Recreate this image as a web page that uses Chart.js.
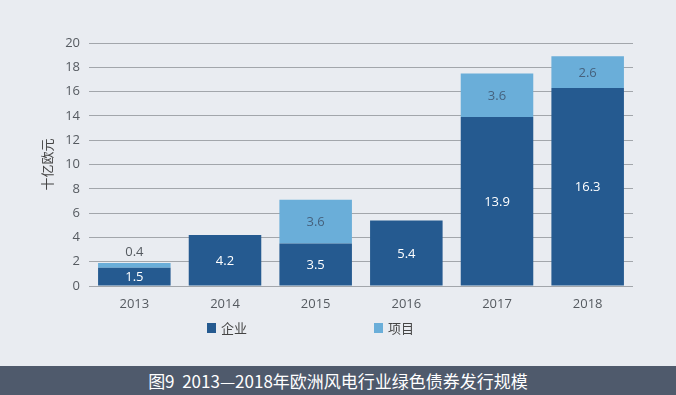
<!DOCTYPE html>
<html>
<head>
<meta charset="utf-8">
<script src="https://cdn.jsdelivr.net/npm/chart.js@4"></script>
<style>
  html, body { margin: 0; padding: 0; }
  body { width: 676px; height: 395px; background: #e9ecf1; overflow: hidden; position: relative; }
  #wrap { position: absolute; left: 0; top: 0; width: 676px; height: 366px; }
  #banner {
    position: absolute; left: 0; top: 366px; width: 676px; height: 29px;
    background: #4f5a6c; color: #ffffff; text-align: center;
    font: 17px "Noto Sans CJK SC", sans-serif; line-height: 29px;
  }
</style>
</head>
<body>
<div id="wrap"><canvas id="grafica" width="676" height="366"></canvas></div>
<div id="banner">图9&nbsp; 2013—2018年欧洲风电行业绿色债券发行规模</div>
<script>
// datos
const anios = ['2013', '2014', '2015', '2016', '2017', '2018'];
const empresa = [1.5, 4.2, 3.5, 5.4, 13.9, 16.3];   // 企业
const proyecto = [0.4, 0, 3.6, 0, 3.6, 2.6];        // 项目
const yTicks = [0, 2, 4, 6, 8, 10, 12, 14, 16, 18, 20];

const azulOscuro = '#255a90';
const azulClaro = '#6aaed9';

// etiquetas de valor sobre / dentro de las barras
const etiquetas = {
  id: 'etiquetas',
  afterDatasetsDraw(chart) {
    const ctx = chart.ctx;
    ctx.save();
    ctx.font = '13px "Open Sans", sans-serif';
    ctx.textAlign = 'center';
    ctx.textBaseline = 'middle';
    chart.data.datasets.forEach((ds, i) => {
      const meta = chart.getDatasetMeta(i);
      meta.data.forEach((bar, j) => {
        const v = ds.data[j];
        if (!v) return;
        const h = Math.abs(bar.base - bar.y);
        let y = (bar.y + bar.base) / 2;
        if (h < 16) {
          y = bar.y - 12;
          ctx.fillStyle = '#555a60';
        } else {
          ctx.fillStyle = i === 0 ? '#ffffff' : '#46627e';
        }
        ctx.fillText(v.toFixed(1), bar.x, y + 1);
      });
    });
    ctx.restore();
  }
};

// leyenda dibujada a mano
const leyenda = {
  id: 'leyenda',
  afterDraw(chart) {
    const ctx = chart.ctx;
    const xs = [207, 374];
    ctx.save();
    ctx.font = '13px "Noto Sans CJK SC", sans-serif';
    ctx.textBaseline = 'middle';
    chart.data.datasets.forEach((ds, i) => {
      ctx.fillStyle = ds.backgroundColor;
      ctx.fillRect(xs[i], 323, 9, 10);
      ctx.fillStyle = '#444444';
      ctx.fillText(ds.label, xs[i] + 14, 328);
    });
    ctx.restore();
  }
};

new Chart(document.getElementById('grafica'), {
  type: 'bar',
  data: {
    labels: anios,
    datasets: [
      { label: '企业', data: empresa, backgroundColor: azulOscuro },
      { label: '项目', data: proyecto, backgroundColor: azulClaro }
    ]
  },
  options: {
    responsive: false,
    animation: false,
    events: [],
    categoryPercentage: 0.8,
    barPercentage: 1.0,
    layout: { padding: { top: 43, right: 43, bottom: 0, left: 0 } },
    plugins: {
      legend: { display: false },
      tooltip: { enabled: false }
    },
    scales: {
      x: {
        stacked: true,
        grid: { display: false },
        border: { display: false },
        ticks: { color: '#555a60', font: { family: 'Open Sans', size: 13 }, padding: 2 },
        afterFit(scale) { scale.height = 80; }
      },
      y: {
        stacked: true,
        min: 0,
        max: 20,
        afterBuildTicks(scale) { scale.ticks = yTicks.map(v => ({ value: v })); },
        grid: { color: '#a2a6ab', drawTicks: false },
        border: { display: false },
        ticks: { color: '#555a60', font: { family: 'Open Sans', size: 13 }, padding: 9 },
        title: {
          display: true,
          text: '十亿欧元',
          color: '#444444',
          font: { family: 'Noto Sans CJK SC', size: 13 },
          padding: { top: 39, bottom: 0 }
        },
        afterFit(scale) { scale.width = 89; }
      }
    }
  },
  plugins: [etiquetas, leyenda]
});
</script>
</body>
</html>
